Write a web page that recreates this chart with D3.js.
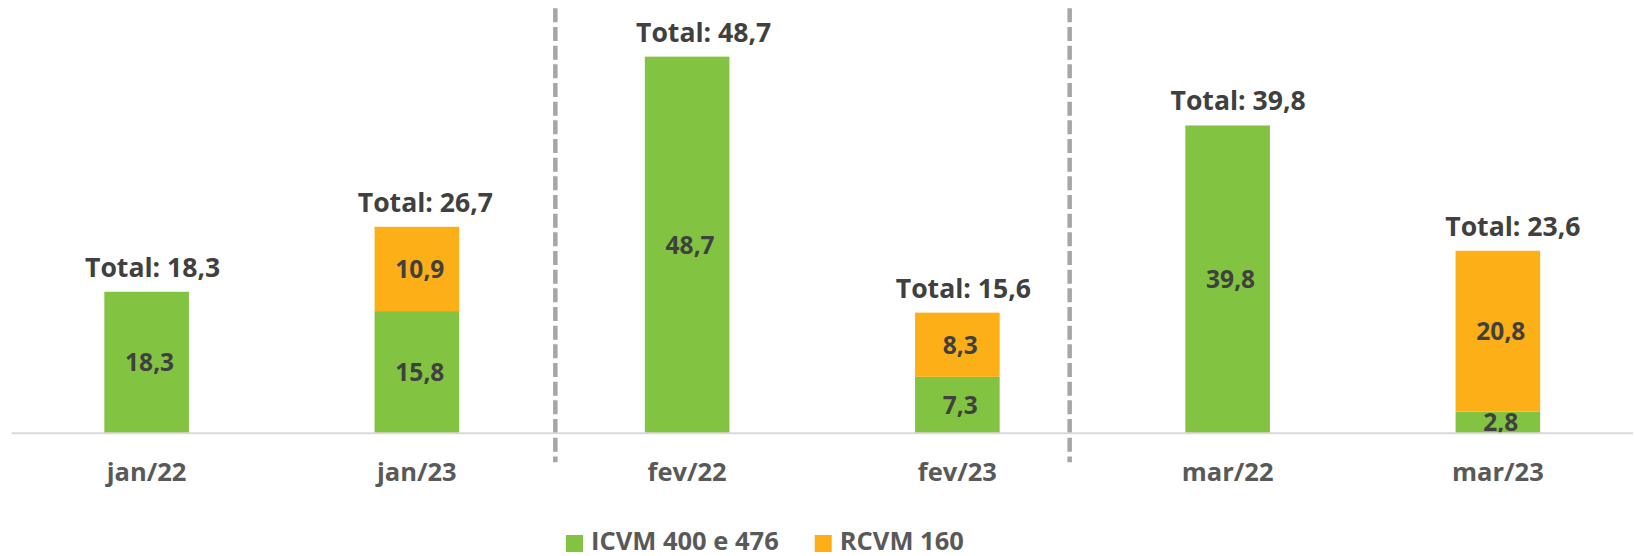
<!DOCTYPE html>
<html lang="pt">
<head>
<meta charset="utf-8">
<title>ICVM 400 e 476 / RCVM 160</title>
<script src="https://cdn.jsdelivr.net/npm/d3@7"></script>
<style>
    body { margin: 0; background: #fff; }
    text { font-family: "Open Sans", "DejaVu Sans", sans-serif; font-weight: 700; }
    .total { fill: #404040; }
    .inner { fill: #404040; }
    .cat { fill: #595959; }
    .legend text { fill: #595959; }
</style>
</head>
<body>
<svg id="chart" width="1635" height="556"></svg>
<script>
// data
var months = ["jan/22", "jan/23", "fev/22", "fev/23", "mar/22", "mar/23"];
var icvm   = [18.3, 15.8, 48.7, 7.3, 39.8, 2.8];
var rcvm   = [0, 10.9, 0, 8.3, 0, 20.8];
var totals = [18.3, 26.7, 48.7, 15.6, 39.8, 23.6];
var seriesNames = ["ICVM 400 e 476", "RCVM 160"];
var colors = ["#82C341", "#FCAF17"];

// the total labels were nudged by hand in the original, keep the nudge
var totalNudge = [6, 8.5, 16.5, 6, 10.5, 15];

var fmt = function (v) { return d3.format(".1f")(v).replace(".", ","); };

var svg = d3.select("#chart");

var x = d3.scaleBand()
    .domain(months)
    .range([11.5, 1633])
    .paddingInner(0.687)
    .paddingOuter(0.3435);

var y = d3.scaleLinear()
    .domain([0, 50])
    .range([433.3, 46.6]);

var rows = months.map(function (m, i) {
    return { month: m, icvm: icvm[i], rcvm: rcvm[i], total: totals[i], nudge: totalNudge[i] };
});
var stack = d3.stack().keys(["icvm", "rcvm"])(rows);

// dashed separators between months (after jan/23 and fev/23)
var dividers = [{ after: "jan/23", frac: 0.518 }, { after: "fev/23", frac: 0.377 }];
dividers.forEach(function (d) {
    var i = months.indexOf(d.after);
    var left = x(months[i]) + x.bandwidth();
    var right = x(months[i + 1]);
    var xx = left + (right - left) * d.frac;
    svg.append("line")
        .attr("x1", xx).attr("x2", xx)
        .attr("y1", 8.3).attr("y2", 462.3)
        .attr("stroke", "#A6A6A6")
        .attr("stroke-width", 4.5)
        .attr("stroke-dasharray", "14,4.67");
});

// bars
var layers = svg.selectAll("g.layer")
    .data(stack)
    .enter().append("g")
    .attr("class", "layer")
    .attr("fill", function (d, i) { return colors[i]; });

layers.selectAll("rect")
    .data(function (d) { return d.filter(function (p) { return p[1] - p[0] > 0; }); })
    .enter().append("rect")
    .attr("x", function (d) { return x(d.data.month); })
    .attr("width", x.bandwidth())
    .attr("y", function (d) { return y(d[1]); })
    .attr("height", function (d) { return y(d[0]) - y(d[1]); });

// axis line
svg.append("line")
    .attr("x1", 11.5).attr("x2", 1633)
    .attr("y1", y(0)).attr("y2", y(0))
    .attr("stroke", "#D9D9D9")
    .attr("stroke-width", 2);

// labels inside segments
layers.selectAll("text")
    .data(function (d) { return d.filter(function (p) { return p[1] - p[0] > 0; }); })
    .enter().append("text")
    .attr("class", "inner")
    .attr("x", function (d) { return x(d.data.month) + x.bandwidth() / 2 + 3; })
    .attr("y", function (d) { return (y(d[0]) + y(d[1])) / 2; })
    .attr("dy", "0.36em")
    .attr("text-anchor", "middle")
    .attr("font-size", 24.5)
    .text(function (d) { return fmt(d[1] - d[0]); });

// totals
svg.selectAll("text.total")
    .data(rows)
    .enter().append("text")
    .attr("class", "total")
    .attr("x", function (d) { return x(d.month) + x.bandwidth() / 2 + d.nudge; })
    .attr("y", function (d) { return y(d.total) - 15; })
    .attr("text-anchor", "middle")
    .attr("font-size", 26.6)
    .text(function (d) { return "Total: " + fmt(d.total); });

// category labels
svg.selectAll("text.cat")
    .data(months)
    .enter().append("text")
    .attr("class", "cat")
    .attr("x", function (d) { return x(d) + x.bandwidth() / 2; })
    .attr("y", y(0) + 48)
    .attr("text-anchor", "middle")
    .attr("font-size", 25.5)
    .text(function (d) { return d; });

// legend
var legend = svg.append("g").attr("class", "legend");
var lx = 566;
seriesNames.forEach(function (name, i) {
    legend.append("rect")
        .attr("x", lx).attr("y", 535)
        .attr("width", 17).attr("height", 17)
        .attr("fill", colors[i]);
    var t = legend.append("text")
        .attr("x", lx + 25)
        .attr("y", 550)
        .attr("font-size", 25.5)
        .text(name);
    lx += 25 + t.node().getComputedTextLength() + 36;
});
</script>
</body>
</html>
